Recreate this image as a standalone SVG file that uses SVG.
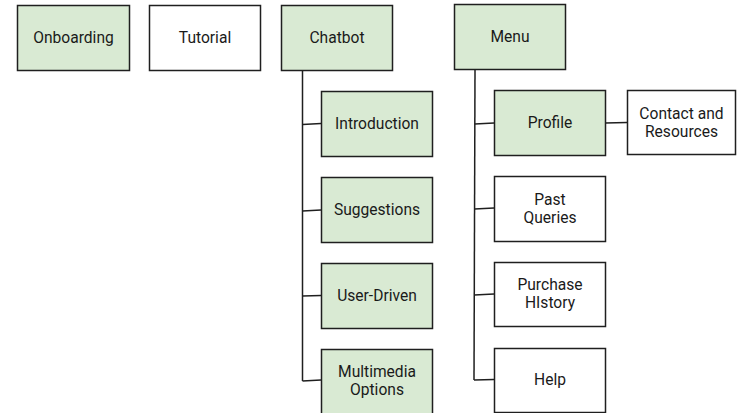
<svg xmlns="http://www.w3.org/2000/svg" width="738" height="413" viewBox="0 0 738 413">
  <style>
    .box { stroke: #1f1f1f; stroke-width: 1.5; }
    .green { fill: #d9ead3; }
    .white { fill: #ffffff; }
    .lbl { font-family: Roboto, "Liberation Sans", sans-serif; font-size: 15.6px; fill: #1a1a1a; text-anchor: middle; dominant-baseline: central; }
    .wire { stroke: #1f1f1f; stroke-width: 1.5; fill: none; }
  </style>
  <rect width="738" height="413" fill="#ffffff"/>

  <!-- branch lines -->
  <g id="connectors">
    <path class="wire" d="M302.5 70 V381"/>
    <path class="wire" d="M302.5 124.5 L321 123.5"/>
    <path class="wire" d="M302.5 211 L321 210"/>
    <path class="wire" d="M302.5 296 L321 295.5"/>
    <path class="wire" d="M302.5 381 L321 380"/>
    <path class="wire" d="M475 70 L474 380"/>
    <path class="wire" d="M474.8 124 L494 123"/>
    <path class="wire" d="M474.5 209 L494 208"/>
    <path class="wire" d="M474.3 295 L494 294"/>
    <path class="wire" d="M474 380 L494 379.5"/>
    <path class="wire" d="M605 123 L627 122.5"/>
  </g>

  <g id="onboarding">
    <rect class="box green" x="17.5" y="5.5" width="112" height="65"/>
    <text class="lbl" x="73.5" y="38">Onboarding</text>
  </g>
  <g id="tutorial">
    <rect class="box white" x="149.5" y="5.5" width="111" height="65"/>
    <text class="lbl" x="205" y="38">Tutorial</text>
  </g>
  <g id="chatbot">
    <rect class="box green" x="281.5" y="5.5" width="111" height="65"/>
    <text class="lbl" x="337" y="38">Chatbot</text>
  </g>
  <g id="menu">
    <rect class="box green" x="454.5" y="4.5" width="111" height="65"/>
    <text class="lbl" x="510" y="37">Menu</text>
  </g>

  <g id="introduction">
    <rect class="box green" x="321.5" y="91.5" width="111" height="65"/>
    <text class="lbl" x="377" y="124">Introduction</text>
  </g>
  <g id="suggestions">
    <rect class="box green" x="321.5" y="177.5" width="111" height="65"/>
    <text class="lbl" x="377" y="210">Suggestions</text>
  </g>
  <g id="user-driven">
    <rect class="box green" x="321.5" y="263.5" width="111" height="65"/>
    <text class="lbl" x="377" y="296">User-Driven</text>
  </g>
  <g id="multimedia">
    <rect class="box green" x="321.5" y="349.5" width="111" height="65"/>
    <text class="lbl" x="377" y="372">Multimedia</text>
    <text class="lbl" x="377" y="390">Options</text>
  </g>

  <g id="profile">
    <rect class="box green" x="494.5" y="90.5" width="111" height="65"/>
    <text class="lbl" x="550" y="123">Profile</text>
  </g>
  <g id="contact">
    <rect class="box white" x="627.5" y="90.5" width="108" height="64"/>
    <text class="lbl" x="681.5" y="114">Contact and</text>
    <text class="lbl" x="681.5" y="132">Resources</text>
  </g>
  <g id="past-queries">
    <rect class="box white" x="494.5" y="176.5" width="111" height="65"/>
    <text class="lbl" x="550" y="200">Past</text>
    <text class="lbl" x="550" y="218">Queries</text>
  </g>
  <g id="purchase-history">
    <rect class="box white" x="494.5" y="262.5" width="111" height="64"/>
    <text class="lbl" x="550" y="285">Purchase</text>
    <text class="lbl" x="550" y="303">HIstory</text>
  </g>
  <g id="help">
    <rect class="box white" x="494.5" y="348.5" width="111" height="64"/>
    <text class="lbl" x="550" y="380">Help</text>
  </g>
</svg>
